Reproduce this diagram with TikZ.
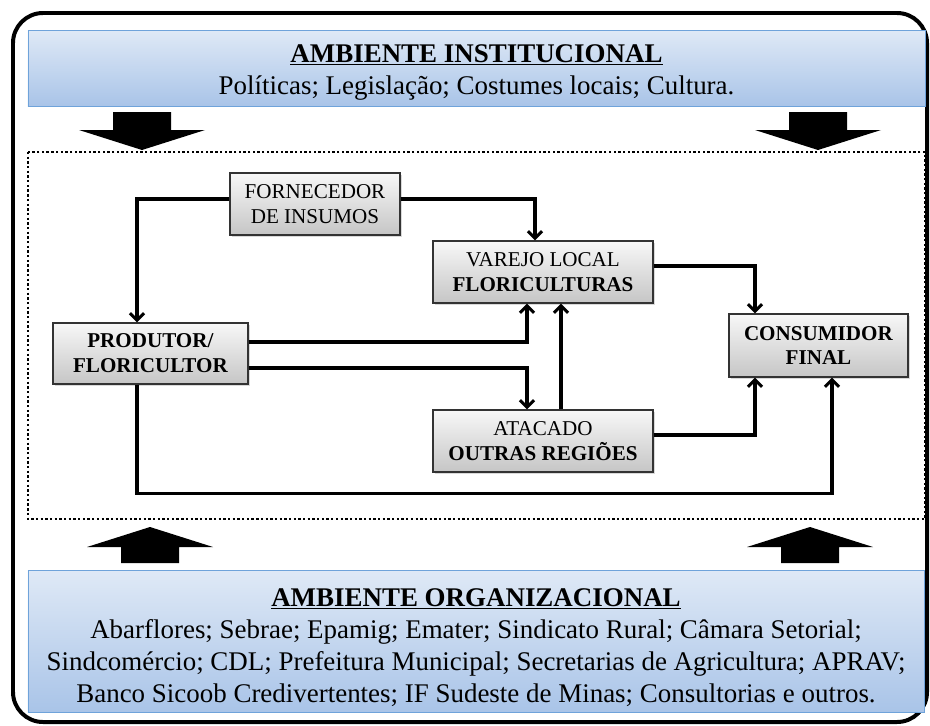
\documentclass[tikz,border=0pt]{standalone}
\usepackage{fontspec}
\setmainfont{Liberation Serif}
\usetikzlibrary{arrows.meta,calc,shadows}

\definecolor{envtop}{HTML}{DFE9F6}
\definecolor{envbottom}{HTML}{A9C4E8}
\definecolor{envline}{HTML}{6FA3DA}

\tikzset{
  agent/.style={draw=black!80, line width=1pt, top color=gray!6, bottom color=gray!45,
    drop shadow={opacity=0.3, shadow xshift=2pt, shadow yshift=-2pt},
    align=center, inner sep=2pt, font=\fontsize{18}{21.3}\selectfont},
  envbox/.style={draw=envline, line width=0.7pt, top color=envtop, bottom color=envbottom,
    align=center, font=\fontsize{23}{27.3}\selectfont},
  flow/.style={line width=2.6pt, -{Straight Barb[length=6pt,width=12pt]}},
}

\begin{document}
\begin{tikzpicture}[x=0.03cm, y=-0.03cm]
\useasboundingbox (0,0) rectangle (930,725);

% frame and market area
\draw[line width=3.4pt, rounded corners=0.9cm] (13,13) rectangle (927,722);
\draw[line width=2.2pt, dash pattern=on 2pt off 2pt] (28,152) rectangle (925,519);

% environments
\node[envbox, minimum width=26.91cm, minimum height=2.28cm] (inst) at (476.5,68)
  {\rule{0pt}{22.5pt}\underline{\textbf{AMBIENTE INSTITUCIONAL}}\\
   Políticas; Legislação; Costumes locais; Cultura.};
\node[envbox, minimum width=26.88cm, minimum height=4.26cm] (org) at (476,641)
  {\rule{0pt}{26.5pt}\underline{\textbf{AMBIENTE ORGANIZACIONAL}}\\
   Abarflores; Sebrae; Epamig; Emater; Sindicato Rural; Câmara Setorial;\\
   Sindcomércio; CDL; Prefeitura Municipal; Secretarias de Agricultura; APRAV;\\
   Banco Sicoob Credivertentes; IF Sudeste de Minas; Consultorias e outros.};

% block arrows
\foreach \cx in {142,818}
  \fill (\cx-29,112) -- (\cx+29,112) -- (\cx+29,130) -- (\cx+63,130) -- (\cx,150)
    -- (\cx-63,130) -- (\cx-29,130) -- cycle;
\foreach \cx in {150,810}
  \fill (\cx-29,563) -- (\cx+29,563) -- (\cx+29,547) -- (\cx+63,547) -- (\cx,527)
    -- (\cx-63,547) -- (\cx-29,547) -- cycle;

% agents of the chain
\node[agent, minimum width=5.1cm, minimum height=1.86cm] (forn) at (315,204)
  {FORNECEDOR\\DE INSUMOS};
\node[agent, minimum width=5.85cm, minimum height=1.83cm] (prod) at (150.5,353.5)
  {\textbf{PRODUTOR/}\\\textbf{FLORICULTOR}};
\node[agent, minimum width=6.6cm, minimum height=1.86cm] (varejo) at (543,272)
  {VAREJO LOCAL\\\textbf{FLORICULTURAS}};
\node[agent, minimum width=6.6cm, minimum height=1.86cm] (atac) at (543,441)
  {ATACADO\\\textbf{OUTRAS REGIÕES}};
\node[agent, minimum width=5.37cm, minimum height=1.89cm] (cons) at (818.5,345.5)
  {\textbf{CONSUMIDOR}\\\textbf{FINAL}};

% flows
\draw[flow] ($(forn.west)+(0,-5)$) -| ($(prod.north)+(-13.5,0)$);
\draw[flow] ($(forn.east)+(0,-5)$) -| ($(varejo.north)+(-8,0)$);
\draw[flow] ($(prod.east)+(0,-11.5)$) -| ($(varejo.south)+(-16,0)$);
\draw[flow] ($(prod.east)+(0,14.5)$) -| ($(atac.north)+(-16,0)$);
\draw[flow] ($(atac.north)+(18,0)$) -- ($(varejo.south)+(18,0)$);
\draw[flow] ($(varejo.east)+(0,-6)$) -| ($(cons.north)+(-63.5,0)$);
\draw[flow] ($(atac.east)+(0,-6)$) -| ($(cons.south)+(-63.5,0)$);
\draw[flow] ($(prod.south)+(-13.5,0)$) -- ++(0,109) -| ($(cons.south)+(13.5,0)$);
\end{tikzpicture}
\end{document}
